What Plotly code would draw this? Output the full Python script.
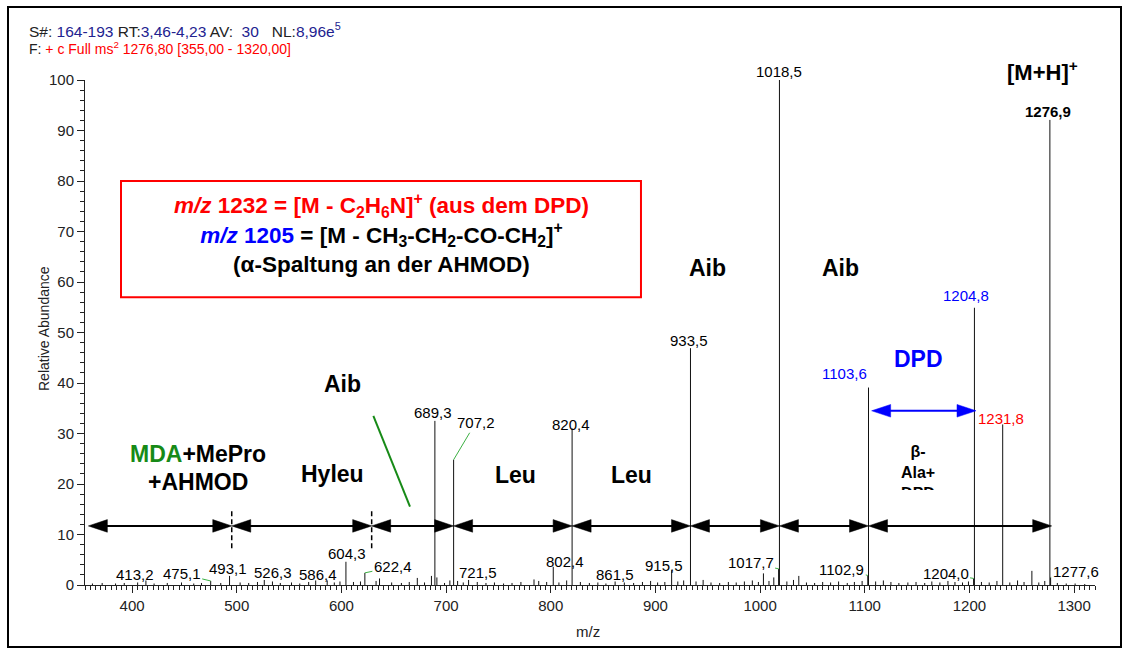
import plotly.graph_objects as go

# ---------------- data ----------------
mz = [362.1, 371.4, 384.2, 392.5, 405.3, 413.2, 421.0, 433.6, 447.2, 458.9, 466.3, 475.1, 484.7,
      493.1, 503.2, 511.4, 519.8, 526.3, 534.1, 541.6, 552.3, 560.2, 568.7, 575.4, 586.4, 593.2,
      598.6, 604.3, 611.5, 618.2, 622.4, 633.1, 636.4, 648.0, 657.3, 664.8, 672.5, 679.4, 686.0,
      689.3, 691.2, 698.5, 703.6, 707.2, 711.0, 716.4, 721.5, 729.8, 738.1, 746.2, 754.9, 763.0,
      771.5, 784.0, 788.5, 796.1, 802.4, 807.8, 815.2, 820.4, 828.3, 836.9, 845.0, 852.7, 861.5,
      870.3, 879.2, 887.6, 895.4, 902.1, 909.0, 915.5, 921.4, 927.0, 933.5, 938.8, 945.6, 953.1,
      961.4, 969.7, 977.2, 985.0, 992.6, 998.4, 1003.2, 1008.5, 1013.1, 1017.7, 1018.5, 1025.6,
      1031.9, 1037.0, 1044.3, 1052.1, 1059.8, 1067.4, 1075.0, 1083.3, 1090.1, 1097.5, 1102.9,
      1103.6, 1110.4, 1117.8, 1125.0, 1132.6, 1141.2, 1149.0, 1157.3, 1164.1, 1171.8, 1179.5,
      1186.2, 1193.4, 1199.1, 1204.0, 1204.8, 1211.5, 1218.9, 1226.3, 1231.8, 1238.6, 1246.0,
      1252.2, 1259.7, 1266.3, 1272.0, 1276.9, 1277.6, 1284.0, 1292.5, 1301.0, 1310.2]
intensity = [0.3, 0.4, 0.3, 0.4, 0.5, 0.9, 0.3, 0.4, 0.5, 0.3, 0.4, 0.8, 0.4,
             1.8, 0.5, 0.4, 0.6, 1.0, 0.7, 0.4, 0.5, 0.3, 0.6, 0.9, 0.9, 0.5,
             0.7, 4.6, 0.6, 0.7, 2.4, 0.8, 1.3, 0.5, 0.4, 0.6, 1.4, 0.5, 1.8,
             32.5, 1.5, 0.4, 0.9, 24.8, 0.8, 0.5, 1.0, 0.6, 0.4, 0.5, 0.3, 0.4,
             0.6, 1.1, 0.8, 0.6, 3.6, 0.5, 0.9, 31.0, 0.6, 0.4, 0.5, 0.3, 0.7,
             0.5, 0.4, 0.6, 0.8, 0.5, 0.6, 2.9, 0.7, 0.9, 46.9, 0.7, 1.0, 0.5,
             0.4, 0.6, 0.5, 0.7, 0.9, 0.6, 2.3, 0.8, 1.5, 3.2, 100.0, 0.7,
             1.0, 1.8, 0.5, 0.4, 0.6, 0.5, 0.7, 0.4, 0.6, 0.8, 1.9,
             39.1, 0.7, 0.9, 0.6, 0.4, 0.5, 0.6, 0.4, 0.7, 0.5, 0.8,
             0.6, 0.5, 0.7, 1.3, 54.9, 0.6, 0.5, 0.8, 31.8, 0.5, 0.9,
             0.6, 2.8, 0.5, 0.8, 92.1, 1.5, 0.4, 0.3, 0.3, 0.2]

# peak labels
label_mz = [413.2, 475.1, 493.1, 526.3, 586.4, 604.3, 622.4, 689.3, 707.2, 721.5, 802.4, 820.4,
            861.5, 915.5, 933.5, 1017.7, 1018.5, 1102.9, 1103.6, 1204.0, 1204.8, 1231.8, 1276.9, 1277.6]
label_text = ["413,2", "475,1", "493,1", "526,3", "586,4", "604,3", "622,4", "689,3", "707,2", "721,5",
              "802,4", "820,4", "861,5", "915,5", "933,5", "1017,7", "1018,5", "1102,9", "1103,6",
              "1204,0", "1204,8", "1231,8", "1276,9", "1277,6"]

# fragment spans (m/z boundaries of the double arrows)
arrow_bounds = [358.2, 495.2, 628.9, 707.2, 820.4, 933.5, 1018.5, 1103.6, 1278.6]
arrow_level = 11.7
dashed_mz = [495.2, 628.9]
dpd_span = [1106.6, 1206.3]
dpd_level = 34.5

# ---------------- layout constants ----------------
W, H = 1129, 650
ML, MR, MT, MB = 85, 34, 80, 65
PW, PH = W - ML - MR, H - MT - MB
XR = [355, 1320]
YR = [0, 100]
PXX = PW / (XR[1] - XR[0])
PXY = PH / (YR[1] - YR[0])
FONT = "Liberation Sans, Arial, sans-serif"
GREEN_LEAD = "#3cb043"
DGREEN = "#178a17"
NAVY = "#22228f"

def py2paper(py):
    return (H - MB - py) / PH

def px2paper(px):
    return (px - ML) / PW

fig = go.Figure()

# stick spectrum
xs, ys = [], []
for m, v in zip(mz, intensity):
    xs += [m, m, None]
    ys += [0, v, None]
fig.add_trace(go.Scatter(x=xs, y=ys, mode="lines", line=dict(color="#111111", width=1),
                         hoverinfo="skip", showlegend=False))

inten_of = dict(zip(mz, intensity))

# label styling: (dx, dy) pixel offsets of label centre from peak top, colour, bold, leader line
label_style = {
    413.2: (-11, -6, "black", False, True),
    475.1: (-29, -7, "black", False, True),
    493.1: (-2, -7, "black", False, False),
    526.3: (9, -7, "black", False, True),
    586.4: (-9, -6, "black", False, True),
    604.3: (1, -8, "black", False, False),
    622.4: (28, -6, "black", False, True),
    689.3: (-2, -8, "black", False, False),
    707.2: (22, -37, "black", False, True),
    721.5: (9, -7, "black", False, True),
    802.4: (12, -5, "black", False, True),
    820.4: (-1, -4, "black", False, False),
    861.5: (0, -7, "black", False, False),
    915.5: (-8, -5, "black", False, True),
    933.5: (-1, -8, "black", False, False),
    1017.7: (-28, -6, "black", False, True),
    1018.5: (0, -9, "black", False, False),
    1102.9: (-26, -6, "black", False, True),
    1103.6: (-24, -14, "#0000ff", False, False),
    1204.0: (-28, -5, "black", False, True),
    1204.8: (-8, -12, "#0000ff", False, False),
    1231.8: (-2, -6, "#ff0000", False, False),
    1276.9: (-2, -8, "black", True, False),
    1277.6: (25, -6, "black", False, True),
}

annotations = []
for m, t in zip(label_mz, label_text):
    dx, dy, col, bold, lead = label_style[m]
    txt = f"<b>{t}</b>" if bold else t
    if lead:
        annotations.append(dict(x=m, y=inten_of[m], xref="x", yref="y", text=txt,
                                showarrow=True, ax=dx, ay=dy, arrowhead=0, arrowwidth=1,
                                arrowcolor=GREEN_LEAD, standoff=0,
                                font=dict(size=15, color=col, family=FONT)))
    else:
        annotations.append(dict(x=m, y=inten_of[m], xref="x", yref="y", text=txt,
                                showarrow=False, xanchor="center", yanchor="middle",
                                xshift=dx, yshift=-dy,
                                font=dict(size=15, color=col, family=FONT)))

def bold_label(x, y, text, size=23, color="black"):
    annotations.append(dict(x=x, y=y, xref="x", yref="y", text=f"<b>{text}</b>", showarrow=False,
                            xanchor="center", yanchor="middle",
                            font=dict(size=size, color=color, family=FONT)))

bold_label(600.6, 39.9, "Aib")
bold_label(591.7, 21.9, "Hyleu")
bold_label(463.3, 25.9, f"<span style='color:{DGREEN}'>MDA</span>+MePro")
bold_label(463.3, 20.4, "+AHMOD")
bold_label(766.5, 21.8, "Leu")
bold_label(876.7, 21.8, "Leu")
bold_label(949.3, 62.8, "Aib")
bold_label(1077.3, 62.8, "Aib")
bold_label(1151.7, 44.8, "DPD", color="#0000ff")

# [M+H]+ sits above the plotting area
annotations.append(dict(x=1270.3, y=py2paper(71), xref="x", yref="paper",
                        text="<b>[M+H]<sup>+</sup></b>", showarrow=False,
                        xanchor="center", yanchor="middle",
                        font=dict(size=22, color="black", family=FONT)))

# clipped beta-Ala+DPD label
annotations.append(dict(x=1151.2, y=28.6, xref="x", yref="y",
                        text="<b>β-<br>Ala+<br>DPD</b>", showarrow=False,
                        xanchor="center", yanchor="top", valign="top", height=47, width=60,
                        font=dict(size=16, color="black", family=FONT)))

# info box text (one block, three lines)
box_x = 638.7
BOXF = 22.5
box_text = ("<b><span style='color:#ff0000'><i>m/z</i> 1232 = [M - C<sub>2</sub>H<sub>6</sub>N]<sup>+</sup> (aus dem DPD)</span>"
            "<br><span style='color:#0000ff'><i>m/z</i> 1205</span> = [M - CH<sub>3</sub>-CH<sub>2</sub>-CO-CH<sub>2</sub>]<sup>+</sup>"
            "<br>(α-Spaltung an der AHMOD)</b>")
annotations.append(dict(x=box_x, y=69.7, xref="x", yref="y", showarrow=False,
                        xanchor="center", yanchor="middle", align="center",
                        text=box_text, font=dict(size=BOXF, color="black", family=FONT)))

# header
annotations.append(dict(x=px2paper(27), y=py2paper(30), xref="paper", yref="paper",
                        xanchor="left", yanchor="middle", showarrow=False,
                        text=(f"S#: <span style='color:{NAVY}'>164-193</span> RT:<span style='color:{NAVY}'>3,46-4,23</span>"
                              f" AV:&nbsp;&nbsp;<span style='color:{NAVY}'>30</span>&nbsp;&nbsp;&nbsp;NL:<span style='color:{NAVY}'>8,96e<sup>5</sup></span>"),
                        font=dict(size=15.5, color="#222222", family=FONT)))
annotations.append(dict(x=px2paper(27), y=py2paper(48), xref="paper", yref="paper",
                        xanchor="left", yanchor="middle", showarrow=False,
                        text="F: <span style='color:#ff0000'>+ c Full ms<sup>2</sup> 1276,80 [355,00 - 1320,00]</span>",
                        font=dict(size=14, color="#222222", family=FONT)))
# axis titles
annotations.append(dict(x=px2paper(44), y=py2paper(329), xref="paper", yref="paper", showarrow=False,
                        xanchor="center", yanchor="middle",
                        text="Relative Abundance", textangle=-90,
                        font=dict(size=14, color="#222222", family=FONT)))
annotations.append(dict(x=px2paper(588), y=py2paper(631), xref="paper", yref="paper", showarrow=False,
                        xanchor="center", yanchor="middle",
                        text="m/z", font=dict(size=15, color="#222222", family=FONT)))

# ---------------- shapes ----------------
shapes = []
HEAD_L = 19 / PXX
HEAD_H = 6.3 / PXY

def dbl_arrow(xa, xb, y, color, lw=2):
    shapes.append(dict(type="line", xref="x", yref="y", x0=xa + HEAD_L * 0.5, x1=xb - HEAD_L * 0.5,
                       y0=y, y1=y, line=dict(color=color, width=lw)))
    for tip, base in ((xa, xa + HEAD_L), (xb, xb - HEAD_L)):
        shapes.append(dict(type="path", xref="x", yref="y",
                           path=f"M {tip},{y} L {base},{y + HEAD_H} L {base},{y - HEAD_H} Z",
                           fillcolor=color, line=dict(color=color, width=0.5)))

for a, b in zip(arrow_bounds[:-1], arrow_bounds[1:]):
    dbl_arrow(a, b, arrow_level, "black")
dbl_arrow(dpd_span[0], dpd_span[1], dpd_level, "#0000ff")

for d in dashed_mz:
    shapes.append(dict(type="line", xref="x", yref="y", x0=d, x1=d, y0=7.3, y1=15.2,
                       line=dict(color="black", width=1.5, dash="5px,3px")))

# green diagonal
shapes.append(dict(type="line", xref="x", yref="y", x0=630.5, y0=33.5, x1=665.5, y1=15.5,
                   line=dict(color=DGREEN, width=2)))

# info box
shapes.append(dict(type="rect", xref="x", yref="y", x0=389.4, x1=886.2, y0=57.0, y1=80.0,
                   line=dict(color="#ff0000", width=2), fillcolor="rgba(0,0,0,0)"))

# outer frame
shapes.append(dict(type="rect", xref="paper", yref="paper",
                   x0=px2paper(8), x1=px2paper(1121), y0=py2paper(647), y1=py2paper(7),
                   line=dict(color="black", width=2), fillcolor="rgba(0,0,0,0)"))

fig.update_layout(
    width=W, height=H,
    margin=dict(l=ML, r=MR, t=MT, b=MB, pad=0),
    paper_bgcolor="white", plot_bgcolor="white",
    font=dict(family=FONT, color="#222222"),
    showlegend=False,
    annotations=annotations,
    shapes=shapes,
    xaxis=dict(range=XR, tickmode="array", tickvals=list(range(400, 1301, 100)),
               ticks="outside", ticklen=7, tickwidth=1, tickcolor="#222222",
               showline=True, linecolor="#222222", linewidth=1, showgrid=False, zeroline=False,
               tickfont=dict(size=15, family=FONT, color="#222222"),
               minor=dict(dtick=5, tick0=0, ticks="outside", ticklen=4, tickcolor="#222222", showgrid=False)),
    yaxis=dict(range=YR, tickmode="linear", tick0=0, dtick=10,
               ticks="outside", ticklen=7, tickwidth=1, tickcolor="#222222",
               showline=True, linecolor="#222222", linewidth=1, showgrid=False, zeroline=False,
               tickfont=dict(size=15, family=FONT, color="#222222"),
               minor=dict(dtick=2, ticks="outside", ticklen=4, tickcolor="#222222", showgrid=False)),
)

fig.write_html("out.html")
